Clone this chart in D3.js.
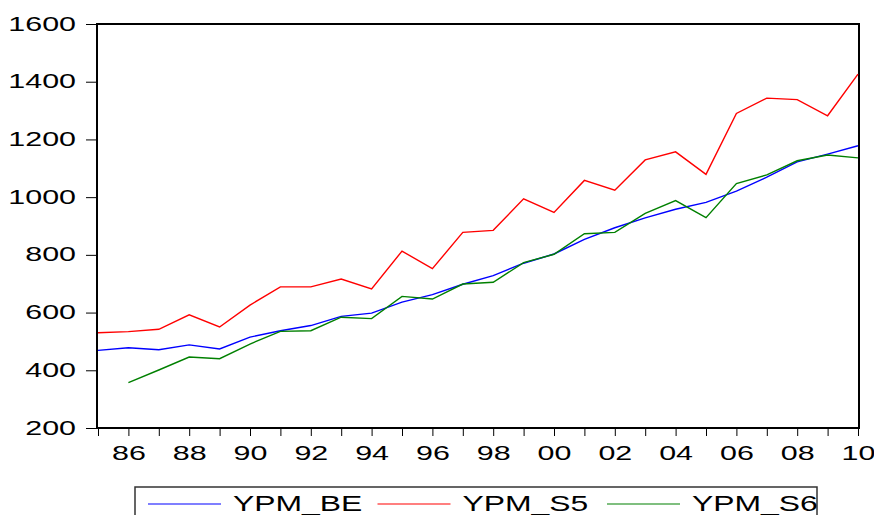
<!DOCTYPE html>
<html>
<head>
<meta charset="utf-8">
<script src="https://cdn.jsdelivr.net/npm/d3@7"></script>
<style>
  body { margin: 0; background: #fff; }
  svg { display: block; }
  text { font-family: "Liberation Sans", Arial, sans-serif; fill: #000; }
</style>
</head>
<body>
<svg width="874" height="515"></svg>
<script>
// data
const years = [1985, 1986, 1987, 1988, 1989, 1990, 1991, 1992, 1993, 1994, 1995, 1996, 1997,
               1998, 1999, 2000, 2001, 2002, 2003, 2004, 2005, 2006, 2007, 2008, 2009, 2010];
const ypmBE = [469, 478, 471, 488, 474, 515, 537, 555, 587, 598, 636, 662, 698,
               728, 771, 803, 854, 894, 928, 958, 982, 1021, 1069, 1122, 1149, 1178];
const ypmS5 = [530, 534, 542, 592, 550, 626, 689, 689, 716, 682, 813, 752, 878,
               885, 994, 947, 1058, 1024, 1129, 1157, 1079, 1290, 1343, 1338, 1282, 1426];
const ypmS6 = [null, 357, 401, 446, 440, 491, 535, 537, 584, 579, 656, 647, 699,
               705, 773, 802, 873, 878, 944, 988, 929, 1047, 1077, 1126, 1146, 1136];
const yTicks = [200, 400, 600, 800, 1000, 1200, 1400, 1600];
const seriesNames = ['YPM_BE', 'YPM_S5', 'YPM_S6'];
const seriesColors = ['#0000ff', '#ff0000', '#008000'];

const svg = d3.select('svg');
const plotL = 97, plotR = 859, plotT = 24, plotB = 428;
const stretch = 1.45; // the labels are drawn wide

const x = d3.scaleLinear().domain([1985, 2010]).range([plotL + 1, plotR - 1]);
const y = d3.scaleLinear().domain([200, 1600]).range([plotB, plotT]);

// x axis
const gx = svg.append('g')
    .attr('transform', `translate(0,${plotB})`)
    .call(d3.axisBottom(x)
        .tickValues(years)
        .tickSize(8)
        .tickFormat(d => d % 2 === 0 ? String(d % 100).padStart(2, '0') : ''));
gx.select('.domain').remove();
gx.selectAll('line').attr('stroke', '#000').attr('stroke-width', 1);
gx.selectAll('text')
    .attr('y', 32)
    .attr('dy', null)
    .attr('transform', `scale(${stretch},1)`)
    .style('font-size', '21px');

// y axis
const gy = svg.append('g')
    .attr('transform', `translate(${plotL},0)`)
    .call(d3.axisLeft(y).tickValues(yTicks).tickSize(11).tickFormat(d3.format('d')));
gy.select('.domain').remove();
gy.selectAll('line').attr('stroke', '#000').attr('stroke-width', 1);
gy.selectAll('text')
    .attr('x', 0)
    .attr('y', 6)
    .attr('dy', null)
    .attr('transform', `translate(-21,0) scale(${stretch},1)`)
    .style('font-size', '21px');

// frame
svg.append('rect')
    .attr('x', plotL)
    .attr('y', plotT)
    .attr('width', plotR - plotL)
    .attr('height', plotB - plotT)
    .attr('fill', 'none')
    .attr('stroke', '#000')
    .attr('stroke-width', 2);

// lines
const line = d3.line()
    .defined(d => d[1] != null)
    .x(d => x(d[0]))
    .y(d => y(d[1]));

[ypmBE, ypmS5, ypmS6].forEach((vals, i) => {
    svg.append('path')
        .datum(years.map((yr, j) => [yr, vals[j]]))
        .attr('fill', 'none')
        .attr('stroke', seriesColors[i])
        .attr('stroke-width', 1.4)
        .attr('stroke-linejoin', 'miter')
        .attr('d', line);
});

// legend (the picture cuts it off at the bottom)
const lg = svg.append('g');
lg.append('rect')
    .attr('x', 135)
    .attr('y', 487)
    .attr('width', 682)
    .attr('height', 60)
    .attr('fill', '#fff')
    .attr('stroke', '#333')
    .attr('stroke-width', 1.5);

const item = lg.selectAll('g.item')
    .data(seriesNames)
    .join('g')
    .attr('class', 'item')
    .attr('transform', (d, i) => `translate(${148 + i * 229.5},0)`);
item.append('line')
    .attr('x1', 0).attr('x2', 73)
    .attr('y1', 504).attr('y2', 504)
    .attr('stroke', (d, i) => seriesColors[i])
    .attr('stroke-width', 1.2);
item.append('text')
    .attr('transform', `translate(85,511) scale(${stretch},1)`)
    .style('font-size', '22px')
    .text(d => d);
</script>
</body>
</html>
